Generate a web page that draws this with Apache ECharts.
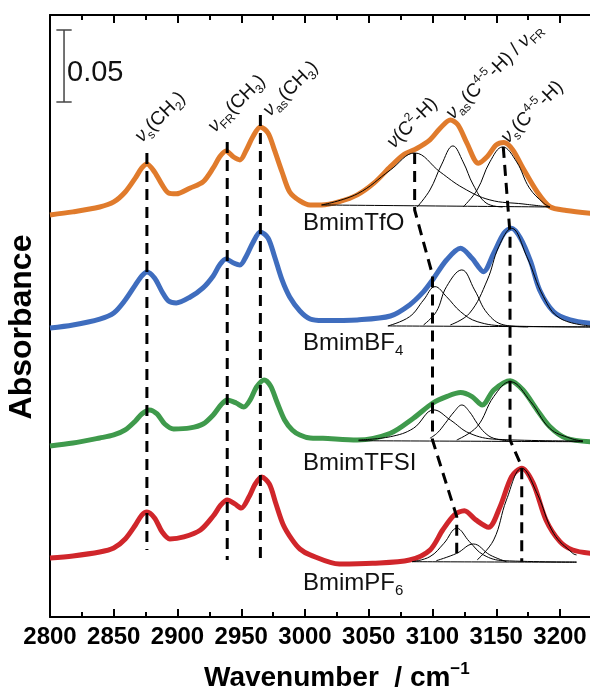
<!DOCTYPE html>
<html>
<head>
<meta charset="utf-8">
<script src="https://cdn.jsdelivr.net/npm/echarts@6/dist/echarts.min.js"></script>
<style>
  html, body { margin: 0; padding: 0; background: #fff; }
  #chart { width: 590px; height: 691px; }
</style>
</head>
<body>
<div id="chart"></div>
<script>
// x axis ticks (cm-1)
const waveTicks = [2800, 2850, 2900, 2950, 3000, 3050, 3100, 3150, 3200];

// spectra, absorbance in 1e-3 units (stacked offsets included)
const tfoWave = [2800, 2818, 2839, 2850, 2859, 2867, 2872, 2876, 2882, 2888, 2893, 2899, 2910, 2920, 2928, 2933, 2938, 2944, 2949, 2954, 2959, 2965, 2971, 2976, 2982, 2988, 2996, 3004,
  3013, 3027, 3041, 3054, 3067, 3077, 3088, 3098, 3106, 3114, 3120, 3127, 3136, 3143, 3150, 3156, 3163, 3171, 3182, 3192, 3205, 3224];
const tfoAbs = [279.2, 281.3, 284.7, 288.2, 295.1, 304.9, 311.8, 314.6, 309.0, 300.0, 294.4, 293.8, 297.9, 302.1, 311.8, 319.4, 323.6, 319.4, 317.4, 324.3, 333.3, 340.3, 336.1, 324.3, 309.0, 295.1, 288.9, 286.1,
  286.1, 288.4, 293.1, 301.2, 312.7, 320.8, 325.5, 331.3, 339.4, 345.1, 341.7, 329.0, 315.1, 319.7, 327.8, 329.4, 324.3, 311.6, 295.3, 284.9, 282.2, 280.3];

const bf4Wave = [2800, 2818, 2839, 2850, 2859, 2867, 2872, 2876, 2882, 2888, 2893, 2899, 2910, 2920, 2928, 2933, 2938, 2944, 2949, 2954, 2959, 2965, 2971, 2976, 2982, 2988, 2996, 3004,
  3014, 3041, 3067, 3082, 3093, 3100, 3111, 3122, 3131, 3140, 3148, 3156, 3162, 3169, 3177, 3184, 3195, 3208, 3224];
const bf4Abs = [200.7, 202.8, 206.9, 211.1, 220.1, 230.6, 236.8, 239.6, 235.4, 225.7, 219.4, 218.1, 222.2, 228.5, 236.8, 244.4, 248.6, 245.8, 244.4, 250.7, 259.7, 267.4, 263.2, 250.7, 234.0, 222.2, 212.5, 206.9,
  205.8, 206.3, 209.0, 216.7, 225.9, 234.0, 247.9, 256.0, 249.1, 239.8, 252.6, 266.5, 269.9, 263.0, 246.7, 227.1, 212.0, 206.3, 204.0];

const tfsiWave = [2800, 2818, 2839, 2850, 2859, 2867, 2872, 2878, 2884, 2890, 2897, 2910, 2920, 2928, 2934, 2939, 2946, 2952, 2957, 2962, 2968, 2973, 2978, 2984, 2990, 2996, 3004,
  3014, 3041, 3067, 3085, 3100, 3111, 3122, 3131, 3139, 3148, 3161, 3171, 3182, 3192, 3205, 3224];
const tfsiAbs = [118.8, 120.8, 124.3, 126.4, 129.9, 136.1, 141.0, 143.8, 141.0, 134.0, 130.6, 131.3, 134.0, 140.3, 147.2, 150.7, 148.6, 145.8, 150.7, 159.7, 164.6, 160.4, 149.3, 136.8, 129.9, 126.4, 124.3,
  124.1, 122.9, 127.6, 138.0, 148.4, 153.0, 155.8, 153.0, 147.2, 157.6, 164.1, 157.6, 143.8, 132.2, 124.1, 121.7];

const pf6Wave = [2800, 2818, 2839, 2850, 2859, 2867, 2872, 2876, 2882, 2888, 2894, 2905, 2918, 2928, 2934, 2939, 2945, 2950, 2956, 2961, 2966, 2972, 2977, 2983, 2990, 2996, 3004,
  3027, 3053, 3082, 3098, 3108, 3117, 3125, 3134, 3144, 3153, 3162, 3170, 3179, 3189, 3200, 3210, 3224];
const pf6Abs = [41.0, 42.4, 45.1, 47.9, 54.2, 63.9, 70.8, 72.9, 68.8, 59.0, 54.2, 55.6, 60.4, 70.1, 77.8, 81.3, 78.5, 75.7, 83.3, 92.4, 97.2, 92.4, 79.2, 63.9, 53.5, 47.2, 43.1,
  36.8, 37.3, 39.6, 46.5, 60.4, 70.8, 73.8, 67.4, 62.3, 76.6, 97.4, 103.3, 92.8, 67.4, 52.3, 46.5, 44.2];

// fitted components [wavenumber, absorbance]
const tfoBase = [[3013, 286.1], [3192, 284.7]];
const tfoC2H = [[3013, 286.1], [3041, 293.8], [3067, 310.4], [3086, 322.2], [3106, 309.0], [3124, 297.9], [3145, 289.6], [3171, 286.8], [3192, 284.7]];
const tfoAs = [[3088, 284.7], [3098, 296.5], [3107, 313.9], [3116, 327.1], [3124, 316.0], [3132, 300.0], [3142, 287.5], [3155, 284.7]];
const tfoS = [[3124, 284.7], [3135, 296.5], [3145, 316.0], [3155, 326.4], [3166, 316.0], [3176, 297.9], [3187, 287.5], [3192, 284.7]];

const bf4Base = [[3065, 202.1], [3224, 201.4]];
const bf4C2H = [[3065, 202.1], [3082, 208.5], [3093, 220.1], [3102, 229.4], [3111, 222.4], [3122, 212.0], [3135, 205.1], [3158, 202.1], [3224, 201.4]];
const bf4As = [[3093, 202.8], [3103, 212.0], [3111, 229.4], [3123, 241.0], [3133, 227.1], [3143, 210.9], [3156, 202.8], [3175, 201.4]];
const bf4S = [[3114, 202.8], [3129, 210.9], [3143, 234.0], [3152, 257.2], [3162, 269.9], [3174, 250.2], [3187, 222.4], [3200, 207.4], [3224, 202.1]];

const tfsiBase = [[3042, 122.4], [3218, 121.7]];
const tfsiC2H = [[3042, 122.9], [3067, 125.2], [3085, 131.0], [3101, 143.8], [3114, 136.8], [3129, 127.6], [3150, 123.4], [3218, 122.2]];
const tfsiAs = [[3098, 124.1], [3104, 128.0], [3110, 134.5], [3117, 142.5], [3123, 147.2], [3129, 142.5], [3135, 134.5], [3141, 128.0], [3148, 124.1], [3161, 122.2]];
const tfsiS = [[3119, 122.9], [3135, 132.2], [3148, 153.0], [3161, 163.4], [3177, 149.5], [3192, 131.0], [3208, 124.1], [3218, 122.2]];

const pf6Base = [[3084, 38.4], [3213, 38.0]];
const pf6C2H = [[3084, 38.4], [3098, 41.9], [3109, 51.2], [3119, 61.6], [3129, 52.3], [3140, 43.1], [3156, 39.1], [3213, 38.2]];
const pf6As = [[3103, 39.1], [3119, 44.2], [3132, 50.7], [3145, 43.1], [3158, 38.4]];
const pf6S = [[3135, 39.6], [3148, 53.5], [3158, 81.3], [3170, 103.3], [3182, 85.9], [3195, 58.1], [3210, 44.2], [3213, 43.1]];

// dashed peak guides
const guideCH2 = [[2876, 322.2], [2876, 46.5]];
const guideFR = [[2939, 329.9], [2939, 39.6]];
const guideCH3 = [[2965, 348.6], [2965, 39.6]];
const guideC2H = [[3086, 322.2], [3086, 282.6], [3100, 237.5], [3100, 122.9], [3119, 69.7], [3119, 44.2]];
const guideC45 = [[3155.5, 326.4], [3160.8, 266.2], [3160.8, 122.9], [3170, 104.4], [3170, 38.4]];

// 0.05 absorbance scale bar
const scaleBarWave = 2811;
const scaleBarLow = 357.6;
const scaleBarSize = 50;

const chart = echarts.init(document.getElementById('chart'));
const FONT = 'Liberation Sans, Arial, sans-serif';

const pairs = (w, a) => w.map((x, i) => [x, a[i]]);

const spectra = [
  { color: '#E07B2C', data: pairs(tfoWave, tfoAbs), fits: [tfoBase, tfoC2H, tfoAs, tfoS] },
  { color: '#3F6DBE', data: pairs(bf4Wave, bf4Abs), fits: [bf4Base, bf4C2H, bf4As, bf4S] },
  { color: '#3F9A4C', data: pairs(tfsiWave, tfsiAbs), fits: [tfsiBase, tfsiC2H, tfsiAs, tfsiS] },
  { color: '#D0262B', data: pairs(pf6Wave, pf6Abs), fits: [pf6Base, pf6C2H, pf6As, pf6S] }
];

const series = [];
spectra.forEach(s => {
  series.push({
    type: 'line', data: s.data, smooth: 0.3, symbol: 'none',
    lineStyle: { color: s.color, width: 5 }, z: 2
  });
});
spectra.forEach(s => {
  s.fits.forEach(f => {
    series.push({
      type: 'line', data: f, smooth: 0.4, symbol: 'none',
      lineStyle: { color: '#000', width: 1 }, z: 3
    });
  });
});
[guideCH2, guideFR, guideCH3, guideC2H, guideC45].forEach(g => {
  series.push({
    type: 'line', data: g, symbol: 'none',
    lineStyle: { color: '#000', width: 3, type: [11, 7] }, z: 4
  });
});
const capW = 6;
[
  [[scaleBarWave, scaleBarLow], [scaleBarWave, scaleBarLow + scaleBarSize]],
  [[scaleBarWave - capW, scaleBarLow], [scaleBarWave + capW, scaleBarLow]],
  [[scaleBarWave - capW, scaleBarLow + scaleBarSize], [scaleBarWave + capW, scaleBarLow + scaleBarSize]]
].forEach(seg => {
  series.push({
    type: 'line', data: seg, symbol: 'none',
    lineStyle: { color: '#444', width: 1.5 }, z: 4
  });
});

const labelRich = {
  nu: { fontSize: 19, fontStyle: 'italic', fontFamily: FONT, fill: '#111', lineHeight: 25 },
  sub: { fontSize: 12, fontFamily: FONT, fill: '#111', verticalAlign: 'bottom', lineHeight: 12 },
  sup: { fontSize: 12, fontFamily: FONT, fill: '#111', verticalAlign: 'top', lineHeight: 12 }
};
const rot = 45 * Math.PI / 180;
const peakLabel = (text, x, y) => ({
  type: 'text', x, y, rotation: rot,
  style: {
    text, fill: '#111', fontSize: 19, fontFamily: FONT, lineHeight: 25,
    align: 'left', verticalAlign: 'bottom', rich: labelRich
  }
});
const sampleRich = {
  sub: { fontSize: 15, fontFamily: FONT, fill: '#111', verticalAlign: 'bottom', lineHeight: 15 }
};
const sampleLabel = (text, y) => ({
  type: 'text', x: 303, y,
  style: {
    text, fill: '#111', fontSize: 24, fontFamily: FONT, lineHeight: 30,
    align: 'left', verticalAlign: 'middle', rich: sampleRich
  }
});

const axisBase = {
  type: 'value', min: waveTicks[0], max: 3250,
  interval: waveTicks[1] - waveTicks[0],
  axisLine: { onZero: false, lineStyle: { color: '#000', width: 2 } },
  axisTick: { inside: true, length: 8, lineStyle: { color: '#000', width: 2 } },
  minorTick: { show: true, splitNumber: 2, length: 5, lineStyle: { color: '#000', width: 2 } },
  splitLine: { show: false }
};

chart.setOption({
  animation: false,
  grid: { left: 50, top: 15, width: 573.75, height: 602, outerBoundsMode: 'none', containLabel: false },
  xAxis: [
    Object.assign({}, axisBase, {
      position: 'bottom',
      axisLabel: {
        margin: 8, color: '#000', fontSize: 24, fontWeight: 'bold', fontFamily: FONT,
        showMaxLabel: false, formatter: v => String(v)
      },
      name: 'Wavenumber  / cm{sup|−1}',
      nameLocation: 'middle', nameGap: 44,
      nameTextStyle: {
        color: '#000', fontSize: 28, fontWeight: 'bold', fontFamily: FONT, lineHeight: 34,
        rich: { sup: { fontSize: 17, fontWeight: 'bold', fontFamily: FONT, color: '#000', verticalAlign: 'top', lineHeight: 17 } }
      }
    }),
    Object.assign({}, axisBase, { position: 'top', axisLabel: { show: false } })
  ],
  yAxis: {
    type: 'value', min: 0, max: 418,
    axisLine: { show: true, lineStyle: { color: '#000', width: 2 } },
    axisTick: { show: false },
    axisLabel: { show: false },
    splitLine: { show: false }
  },
  graphic: [
    {
      type: 'text', x: 22, y: 327, rotation: Math.PI / 2,
      style: { text: 'Absorbance', fill: '#000', fontSize: 32, fontWeight: 'bold', fontFamily: FONT, align: 'center', verticalAlign: 'middle' }
    },
    {
      type: 'text', x: 67, y: 73,
      style: { text: '0.05', fill: '#111', fontSize: 29, fontFamily: FONT, align: 'left', verticalAlign: 'middle' }
    },
    peakLabel('{nu|ν}{sub|s}(CH{sub|2})', 147, 148),
    peakLabel('{nu|ν}{sub|FR}(CH{sub|3})', 220, 138),
    peakLabel('{nu|ν}{sub|as}(CH{sub|3})', 275, 122),
    peakLabel('{nu|ν}(C{sup|2}-H)', 399, 154),
    peakLabel('{nu|ν}{sub|as}(C{sup|4-5}-H) / {nu|ν}{sub|FR}', 458, 125),
    peakLabel('{nu|ν}{sub|s}(C{sup|4-5}-H)', 513, 149),
    sampleLabel('BmimTfO', 223),
    sampleLabel('BmimBF{sub|4}', 343),
    sampleLabel('BmimTFSI', 463),
    sampleLabel('BmimPF{sub|6}', 583)
  ],
  series
});
</script>
</body>
</html>
